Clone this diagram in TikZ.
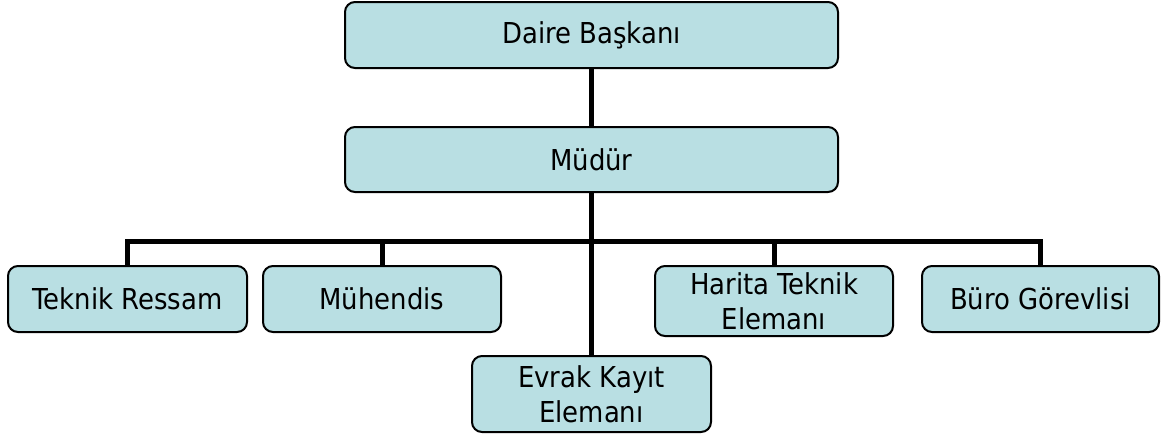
\documentclass[tikz,border=0pt]{standalone}
\usepackage{fontspec}
\setmainfont{DejaVu Sans Condensed}
\definecolor{boxfill}{RGB}{185,223,227}
\tikzset{
  orgbox/.style={draw=black, line width=2pt, fill=boxfill, rounded corners=10pt,
    inner sep=0pt, align=center, font=\fontsize{28.8}{35}\selectfont, text=black},
  link/.style={draw=black, line width=5pt, line join=miter}
}
\begin{document}
\begin{tikzpicture}[x=1pt,y=-1pt]
\useasboundingbox (0,0) rectangle (1167,440);
\node[orgbox, minimum width=493pt, minimum height=66pt] (dai) at (591.5,35) {Daire Başkanı};
\node[orgbox, minimum width=493pt, minimum height=65pt] (mud) at (591.5,159.5) {Müdür};
\node[orgbox, minimum width=239pt, minimum height=66pt] (tek) at (127.5,299) {Teknik Ressam};
\node[orgbox, minimum width=238pt, minimum height=66pt] (muh) at (382,299) {Mühendis};
\node[orgbox, minimum width=239pt, minimum height=76pt] (evr) at (591.5,394) {Evrak Kayıt\\Elemanı};
\node[orgbox, minimum width=238pt, minimum height=70pt] (har) at (774,301) {Harita Teknik\\Elemanı};
\node[orgbox, minimum width=237pt, minimum height=66pt] (bur) at (1040.5,299) {Büro Görevlisi};
\coordinate (bar) at (591.5,241.5);
\draw[link] (dai.south) -- (mud.north);
\draw[link] (mud.south) -- (evr.north);
\draw[link] (tek.north) |- (bar) -| (bur.north);
\draw[link] (muh.north) -- (muh.north |- bar);
\draw[link] (har.north) -- (har.north |- bar);
\end{tikzpicture}
\end{document}
